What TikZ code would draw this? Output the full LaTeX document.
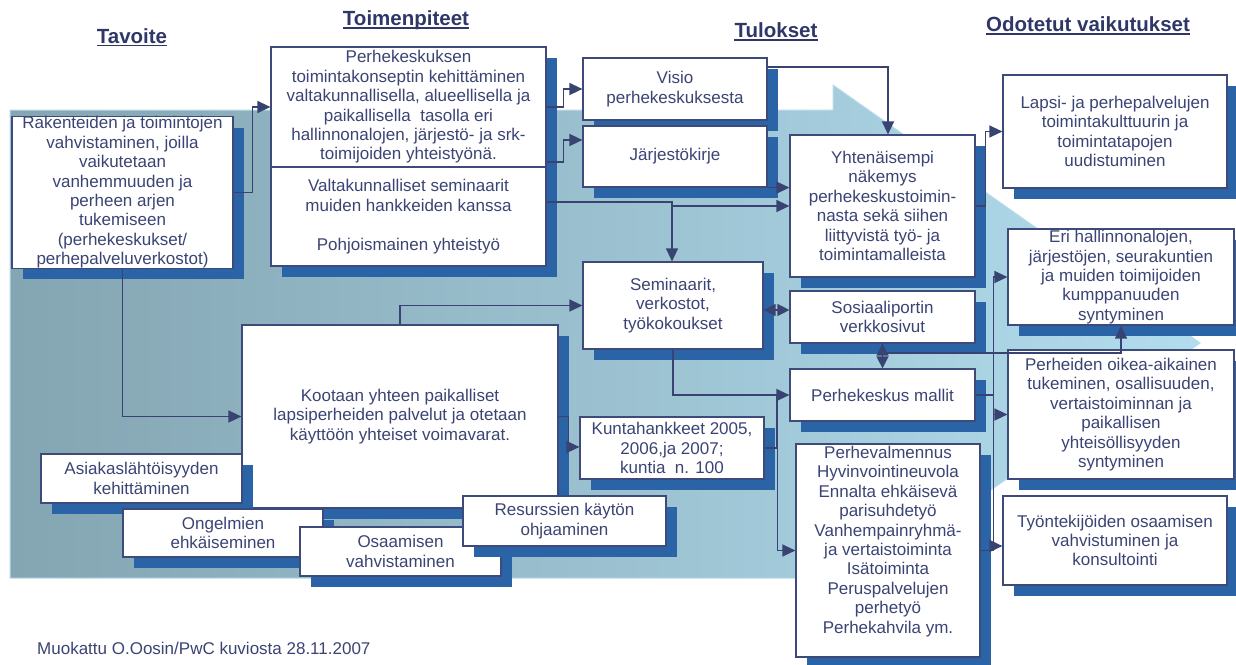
\documentclass[tikz,border=0pt]{standalone}
\usepackage{fontspec}
\setmainfont{Liberation Sans}
\usetikzlibrary{arrows.meta,shadows,calc}
\definecolor{shcol}{HTML}{2A64A6}
\definecolor{bdcol}{HTML}{3E4A7A}
\definecolor{txcol}{HTML}{3B4474}
\definecolor{cncol}{HTML}{394371}
\definecolor{hdcol}{HTML}{2E3768}
\definecolor{bgL}{HTML}{84A5B2}
\definecolor{bgR}{HTML}{B2DDEE}
\definecolor{bgedge}{HTML}{B8DCEA}
\newcommand\mybox[6]{%
  \node[box, minimum width={(#4-#2)*1pt}, minimum height={(#5-#3)*1pt}] (#1) at ({(#2+#4)/2},{(#3+#5)/2}) {#6};}
\begin{document}
\begin{tikzpicture}[x=1pt,y=-1pt,
  box/.style={draw=bdcol, line width=1.2pt, fill=white, align=center, inner sep=0pt, text=txcol,
    font=\fontsize{17}{19.4}\selectfont,
    general shadow={fill=shcol, shadow xshift=11pt, shadow yshift=-11pt}},
  txt/.style={align=center, inner sep=0pt, text=txcol, font=\fontsize{17}{19.4}\selectfont},
  tip/.style={-{Triangle[length=13pt,width=12pt]}},
  conn/.style={draw=cncol, line width=1.3pt, tip},
  dconn/.style={draw=cncol, line width=1.3pt, {Triangle[length=12pt,width=12pt]}-{Triangle[length=12pt,width=12pt]}},
  plain/.style={draw=cncol, line width=1.3pt},
  hdr/.style={font=\fontsize{20.5}{24}\selectfont\bfseries, text=hdcol, inner sep=0pt, anchor=base},
  ul/.style={draw=hdcol, line width=1.8pt}]
\fill[white] (0,0) rectangle (1236,664);
\useasboundingbox (0,0) rectangle (1236,664);
% background arrow
\shade[left color=bgL, right color=bgR, draw=bgedge, line width=1pt]
  (10,110) -- (833,110) -- (833,85) -- (1200,343) -- (833,601) -- (833,578) -- (10,578) -- cycle;
% headers
\node[hdr] (h1) at (132,43) {Tavoite};
\draw[ul] ([yshift=-2.5pt]h1.base west) -- ([yshift=-2.5pt]h1.base east);
\node[hdr] (h2) at (406,25) {Toimenpiteet};
\draw[ul] ([yshift=-3pt]h2.base west) -- ([yshift=-3pt]h2.base east);
\node[hdr] (h3) at (776,37.5) {Tulokset};
\draw[ul] ([yshift=-2.5pt]h3.base west) -- ([yshift=-2.5pt]h3.base east);
\node[hdr] (h4) at (1088,31.5) {Odotetut vaikutukset};
\draw[ul] ([yshift=-2.5pt]h4.base west) -- ([yshift=-2.5pt]h4.base east);
% boxes
\mybox{tav}{12}{119}{233}{266}{Rakenteiden ja toimintojen\\ vahvistaminen, joilla\\ vaikutetaan\\ vanhemmuuden ja\\ perheen arjen\\ tukemiseen\\ (perhekeskukset/\\ perhepalveluverkostot)}
\mybox{tp1}{271}{47}{546}{167}{Perhekeskuksen\\ toimintakonseptin kehittäminen\\ valtakunnallisella, alueellisella ja\\ paikallisella\ \ tasolla eri\\ hallinnonalojen, järjestö- ja srk-\\ toimijoiden yhteistyönä.}
\mybox{tp2}{271}{167}{546}{266}{Valtakunnalliset seminaarit\\ muiden hankkeiden kanssa\\[19.4pt] Pohjoismainen yhteistyö}
\mybox{visio}{583}{58}{767}{120}{Visio\\ perhekeskuksesta}
\mybox{jarj}{583}{126}{767}{187}{Järjestökirje}
\mybox{yht}{790}{135}{975}{277}{Yhtenäisempi\\ näkemys\\ perhekeskustoimin-\\ nasta sekä siihen\\ liittyvistä työ- ja\\ toimintamalleista}
\mybox{lapsi}{1003}{75}{1227}{188}{Lapsi- ja perhepalvelujen\\ toimintakulttuurin ja\\ toimintatapojen\\ uudistuminen}
\mybox{eri}{1008}{229}{1234}{325}{Eri hallinnonalojen,\\ järjestöjen, seurakuntien\\ ja muiden toimijoiden\\ kumppanuuden\\ syntyminen}
\mybox{perh}{1008}{350}{1234}{479}{Perheiden oikea-aikainen\\ tukeminen, osallisuuden,\\ vertaistoiminnan ja\\ paikallisen\\ yhteisöllisyyden\\ syntyminen}
\mybox{tyo}{1003}{496}{1227}{585}{Työntekijöiden osaamisen\\ vahvistuminen ja\\ konsultointi}
\mybox{sem}{583}{262}{763}{349}{Seminaarit,\\ verkostot,\\ työkokoukset}
\mybox{sos}{790}{291}{975}{343}{Sosiaaliportin\\ verkkosivut}
\mybox{pkm}{790}{369}{975}{421}{Perhekeskus mallit}
\mybox{kunta}{580}{417}{764}{479}{Kuntahankkeet 2005,\\ 2006,ja 2007;\\ kuntia\ \ n. 100}
\mybox{pval}{796}{444}{980}{657}{}
\node[txt, anchor=north] (pvaltxt) at (888,446) {Perhevalmennus\\ Hyvinvointineuvola\\ Ennalta ehkäisevä\\ parisuhdetyö\\ Vanhempainryhmä-\\ ja vertaistoiminta\\ Isätoiminta\\ Peruspalvelujen\\ perhetyö\\ Perhekahvila ym.};
\mybox{koot}{242}{325}{558}{508}{Kootaan yhteen paikalliset\\ lapsiperheiden palvelut ja otetaan\\ käyttöön yhteiset voimavarat.}
\mybox{asiak}{41}{454}{242}{503}{Asiakaslähtöisyyden\\ kehittäminen}
\mybox{ong}{123}{509}{323}{557}{Ongelmien\\ ehkäiseminen}
\mybox{osa}{300}{527}{501}{576}{Osaamisen\\ vahvistaminen}
\mybox{res}{463}{496}{666}{546}{Resurssien käytön\\ ohjaaminen}
% connectors
\draw[conn] (tav.east) -- ++(19,0) |- (tp1.west);
\draw[conn] (tp1.east) -- ++(17,0) |- (visio.west);
\draw[conn] (tp1.east |- 0,162) -- ++(17,0) |- (jarj.west |- 0,140);
\draw[conn] (visio.east |- 0,67) -| (yht.north -| 888,0);
\draw[conn] (jarj.south east) -- (jarj.south east -| yht.west);
\draw[conn] (tp2.east |- 0,202) -| (sem.north -| 672,0);
\coordinate (j1) at (672,206);
\draw[conn] (j1) -- (yht.west);
\draw[conn] (yht.east) -- ++(10,0) |- (lapsi.west);
\draw[conn] (tav.south) |- (koot.west);
\draw[conn] (koot.north) |- (sem.west);
\draw[dconn] (sem.east |- 0,310) -- (sos.west |- 0,310);
\draw[dconn] (sos.south) -- (pkm.north);
\coordinate (j2) at (882,353);
\draw[conn] (j2) -| (eri.south);
\draw[conn] (sem.south) |- (pkm.west);
\draw[conn] (pkm.east) -- ++(18,0) |- (perh.west);
\draw[conn] (koot.east) -- ++(10,0) |- (kunta.west |- 0,447);
\draw[conn] (kunta.east) -- ++(13,0) |- (pval.west);
\coordinate (j3) at (777,448);
\draw[plain] (j3) -- (j3 |- pkm.west);
\draw[conn] (pval.east) -- ++(13,0) |- (eri.west);
\coordinate (j4) at (993,546);
\draw[conn] (j4) -- (tyo.west |- j4);
% footnote
\node[txt, anchor=west] (note) at (37,648) {Muokattu O.Oosin/PwC kuviosta 28.11.2007};
\end{tikzpicture}
\end{document}
